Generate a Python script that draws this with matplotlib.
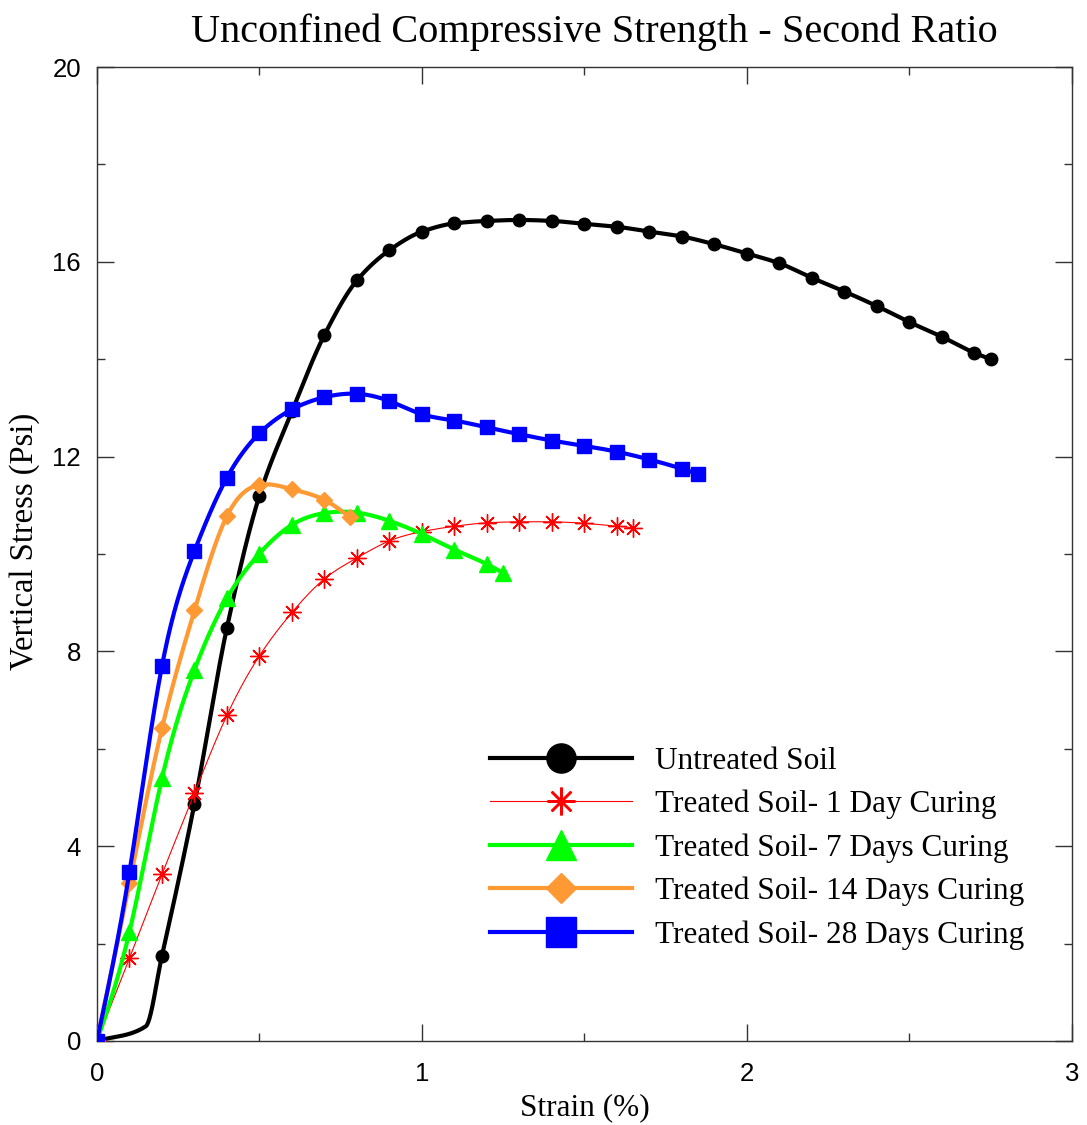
import numpy as np
import matplotlib
matplotlib.use("Agg")
import matplotlib.pyplot as plt
from matplotlib.ticker import MultipleLocator
from matplotlib.lines import Line2D

# Strain (%) and vertical stress (psi) for each specimen
untreated_strain = [0.0, 0.15, 0.2, 0.3, 0.4, 0.5, 0.6, 0.7, 0.8, 0.9, 1.0, 1.1, 1.2, 1.3,
                    1.4, 1.5, 1.6, 1.7, 1.8, 1.9, 2.0, 2.1, 2.2, 2.3, 2.4, 2.5, 2.6, 2.7, 2.75]
untreated_stress = [0.0, 0.30, 1.75, 4.87, 8.49, 11.2, 12.93, 14.5, 15.62, 16.24, 16.62, 16.79,
                    16.84, 16.86, 16.84, 16.78, 16.72, 16.62, 16.52, 16.36, 16.17, 15.97,
                    15.67, 15.39, 15.09, 14.76, 14.46, 14.13, 14.0]

day1_strain = [0.0, 0.1, 0.2, 0.3, 0.4, 0.5, 0.6, 0.7, 0.8, 0.9, 1.0, 1.1, 1.2, 1.3, 1.4,
               1.5, 1.6, 1.65]
day1_stress = [0.0, 1.70, 3.42, 5.09, 6.69, 7.91, 8.80, 9.49, 9.92, 10.27, 10.46, 10.57,
               10.64, 10.66, 10.66, 10.63, 10.57, 10.54]

day7_strain = [0.0, 0.1, 0.2, 0.3, 0.4, 0.5, 0.6, 0.7, 0.8, 0.9, 1.0, 1.1, 1.2, 1.25]
day7_stress = [0.0, 2.24, 5.39, 7.62, 9.09, 10.01, 10.60, 10.84, 10.85, 10.68, 10.41,
               10.09, 9.79, 9.61]

day14_strain = [0.0, 0.1, 0.2, 0.3, 0.4, 0.5, 0.6, 0.7, 0.78]
day14_stress = [0.0, 3.24, 6.42, 8.84, 10.78, 11.42, 11.33, 11.11, 10.75]

day28_strain = [0.0, 0.1, 0.2, 0.3, 0.4, 0.5, 0.6, 0.7, 0.8, 0.9, 1.0, 1.1, 1.2, 1.3, 1.4,
                1.5, 1.6, 1.7, 1.8, 1.85]
day28_stress = [0.0, 3.47, 7.70, 10.06, 11.57, 12.48, 12.97, 13.22, 13.29, 13.14, 12.87,
                12.74, 12.60, 12.46, 12.33, 12.22, 12.10, 11.94, 11.75, 11.64]

series_labels = ["Untreated Soil", "Treated Soil- 1 Day Curing", "Treated Soil- 7 Days Curing",
                 "Treated Soil- 14 Days Curing", "Treated Soil- 28 Days Curing"]


def natural_spline(x, y, n=40):
    """Natural cubic spline through (x, y), sampled n points per interval."""
    x = np.asarray(x, float)
    y = np.asarray(y, float)
    k = len(x)
    h = np.diff(x)
    A = np.zeros((k, k))
    r = np.zeros(k)
    A[0, 0] = A[-1, -1] = 1.0
    for i in range(1, k - 1):
        A[i, i - 1] = h[i - 1]
        A[i, i] = 2 * (h[i - 1] + h[i])
        A[i, i + 1] = h[i]
        r[i] = 6 * ((y[i + 1] - y[i]) / h[i] - (y[i] - y[i - 1]) / h[i - 1])
    M = np.linalg.solve(A, r)
    xs, ys = [], []
    for i in range(k - 1):
        t = np.linspace(x[i], x[i + 1], n, endpoint=(i == k - 2))
        a = x[i + 1] - t
        b = t - x[i]
        s = (M[i] * a ** 3 + M[i + 1] * b ** 3) / (6 * h[i]) \
            + (y[i] / h[i] - M[i] * h[i] / 6) * a + (y[i + 1] / h[i] - M[i + 1] * h[i] / 6) * b
        xs.append(t)
        ys.append(s)
    return np.concatenate(xs), np.concatenate(ys)


def pchip(x, y, n=40):
    """Monotone piecewise cubic Hermite interpolation."""
    x = np.asarray(x, float)
    y = np.asarray(y, float)
    h = np.diff(x)
    d = np.diff(y) / h
    m = np.zeros_like(y)
    for i in range(1, len(x) - 1):
        if d[i - 1] * d[i] > 0:
            w1 = 2 * h[i] + h[i - 1]
            w2 = h[i] + 2 * h[i - 1]
            m[i] = (w1 + w2) / (w1 / d[i - 1] + w2 / d[i])
    m[0] = d[0]
    m[-1] = d[-1]
    xs, ys = [], []
    for i in range(len(x) - 1):
        t = np.linspace(0, 1, n, endpoint=(i == len(x) - 2))
        h00 = 2 * t ** 3 - 3 * t ** 2 + 1
        h10 = t ** 3 - 2 * t ** 2 + t
        h01 = -2 * t ** 3 + 3 * t ** 2
        h11 = t ** 3 - t ** 2
        xs.append(x[i] + t * h[i])
        ys.append(h00 * y[i] + h10 * h[i] * m[i] + h01 * y[i + 1] + h11 * h[i] * m[i + 1])
    return np.concatenate(xs), np.concatenate(ys)


plt.rcParams["font.family"] = ["Liberation Serif", "DejaVu Serif"]

fig = plt.figure(figsize=(10.87, 11.25), dpi=100)
ax = fig.add_axes([0.0892, 0.0747, 0.8970, 0.8657])

styles = [
    dict(color="black", lw=3.0, marker="o", ms=9, lms=21),
    dict(color="#ff0000", lw=0.8, marker=(8, 2, 0), ms=13, mew=1.0, lms=20, lmew=1.8),
    dict(color="#00ff00", lw=3.0, marker="^", ms=11, lms=21),
    dict(color="#ff9933", lw=3.0, marker="D", ms=8, lms=15),
    dict(color="#0000ff", lw=3.0, marker="s", ms=10.5, lms=21),
]
data = [(untreated_strain, untreated_stress), (day1_strain, day1_stress),
        (day7_strain, day7_stress), (day14_strain, day14_stress),
        (day28_strain, day28_stress)]

handles = []
for idx, ((sx, sy), st, lab) in enumerate(zip(data, styles, series_labels)):
    if idx == 0:
        cx, cy = pchip(sx, sy)
        mark_x = [v for v in sx if v != 0.15]
        mark_y = [w for v, w in zip(sx, sy) if v != 0.15]
    else:
        cx, cy = natural_spline(sx, sy)
        mark_x, mark_y = sx, sy
    z = 2 + idx
    ax.plot(cx, cy, color=st["color"], lw=st["lw"], solid_capstyle="round", zorder=z)
    ax.plot(mark_x, mark_y, ls="none", marker=st["marker"], ms=st["ms"],
            color=st["color"], mec=st["color"], mew=st.get("mew", 1.0), zorder=z)
    handles.append(Line2D([], [], color=st["color"], lw=st["lw"], marker=st["marker"],
                          ms=st["lms"], mec=st["color"], mew=st.get("lmew", 1.0),
                          label=lab))

ax.set_xlim(0, 3)
ax.set_ylim(0, 20)
ax.xaxis.set_major_locator(MultipleLocator(1))
ax.xaxis.set_minor_locator(MultipleLocator(0.5))
ax.yaxis.set_major_locator(MultipleLocator(4))
ax.yaxis.set_minor_locator(MultipleLocator(2))
ax.tick_params(which="both", direction="in", top=True, right=True, colors="#333333",
               labelcolor="black", width=1.0)
ax.tick_params(which="major", length=12)
ax.tick_params(which="minor", length=6)
ax.tick_params(axis="x", which="major", pad=15)
ax.tick_params(axis="y", which="major", pad=11.5)
for lab in ax.get_xticklabels() + ax.get_yticklabels():
    lab.set_fontfamily("Liberation Sans")
    lab.set_fontsize(18.5)
for sp in ax.spines.values():
    sp.set_color("#333333")
    sp.set_linewidth(1.0)

ax.set_xlabel("Strain (%)", fontsize=22.5, labelpad=5)
ax.set_ylabel("Vertical Stress (Psi)", fontsize=23.5)
ax.yaxis.set_label_coords(-0.058, 0.513)
ax.set_title("Unconfined Compressive Strength - Second Ratio", fontsize=29, pad=18,
             x=0.51)

leg = ax.legend(handles=handles, loc="upper left", bbox_to_anchor=(0.390, 0.315),
                frameon=False, fontsize=22.5, handlelength=4.55,
                labelspacing=0.45, handletextpad=0.74, borderaxespad=0.0)

fig.savefig("out.png", dpi=100)
